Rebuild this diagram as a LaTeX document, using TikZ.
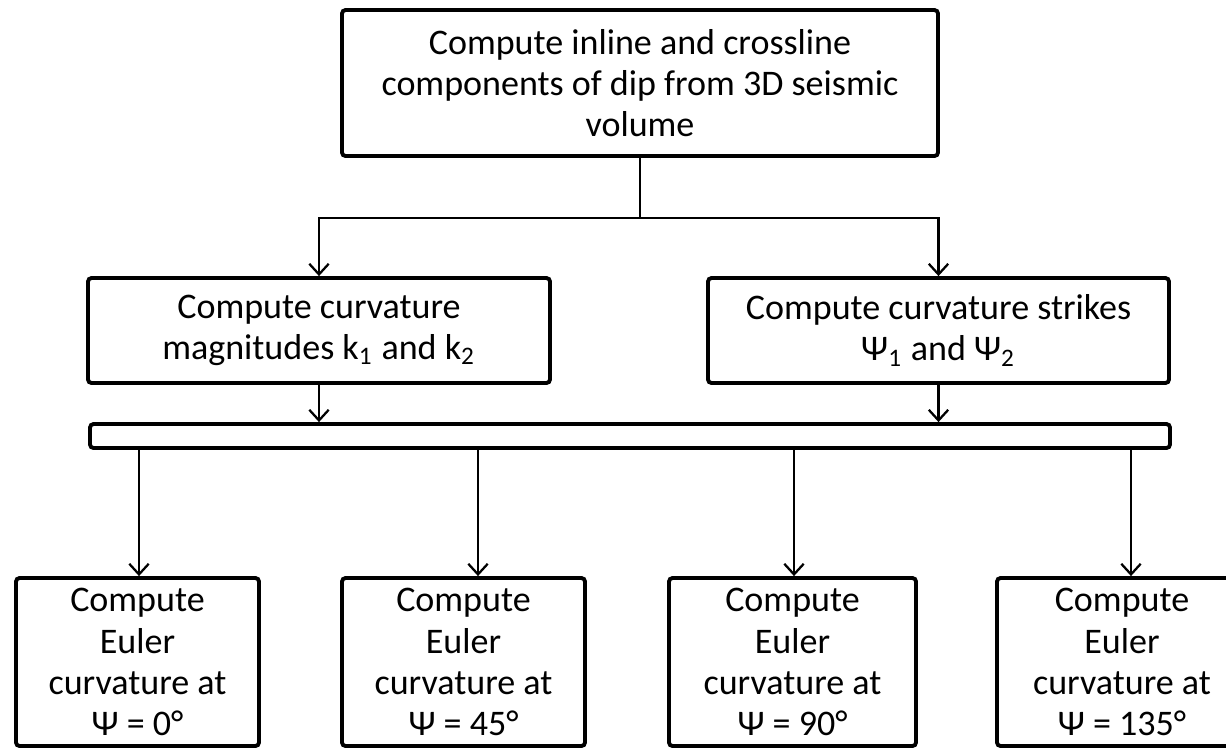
\documentclass[tikz,border=0pt]{standalone}
\usepackage{fontspec}
\setmainfont{Carlito}
\usetikzlibrary{arrows.meta}
\begin{document}
\begin{tikzpicture}[x=1cm,y=1cm,
  box/.style={draw, line width=1.1pt, rounded corners=1pt, align=center, inner sep=0pt,
    font=\fontsize{10.25}{11.7}\selectfont},
  conn/.style={line width=0.65pt},
  arr/.style={conn, -{Straight Barb[length=3pt,width=5.5pt]}}]
\useasboundingbox (0,0) rectangle (12.26,-7.49);
\node[box, minimum width=5.96cm, minimum height=1.46cm] (top) at (6.40,-0.83)
  {Compute inline and crossline\\components of dip from 3D seismic\\volume};
\node[box, minimum width=4.62cm, minimum height=1.05cm] (ml) at (3.19,-3.305)
  {Compute curvature\\magnitudes k\textsubscript{1} and k\textsubscript{2}};
\node[box, minimum width=4.61cm, minimum height=1.05cm] (mr) at (9.385,-3.305)
  {Compute curvature strikes\\Ψ\textsubscript{1} and Ψ\textsubscript{2}};
\node[box, minimum width=10.80cm, minimum height=0.24cm] (bar) at (6.30,-4.36) {};
\node[box, minimum width=2.43cm, minimum height=1.68cm] (b1) at (1.375,-6.62)
  {Compute\\Euler\\curvature at\\Ψ = 0°};
\node[box, minimum width=2.43cm, minimum height=1.68cm] (b2) at (4.635,-6.62)
  {Compute\\Euler\\curvature at\\Ψ = 45°};
\node[box, minimum width=2.47cm, minimum height=1.68cm] (b3) at (7.925,-6.62)
  {Compute\\Euler\\curvature at\\Ψ = 90°};
\node[box, minimum width=2.50cm, minimum height=1.68cm] (b4) at (11.22,-6.62)
  {Compute\\Euler\\curvature at\\Ψ = 135°};
\coordinate (j) at (6.40,-2.18);
\coordinate (x1) at (1.39,0);
\coordinate (x2) at (4.78,0);
\coordinate (x3) at (7.94,0);
\coordinate (x4) at (11.31,0);
\draw[conn] (top.south) -- (j);
\draw[arr] (j) -| (ml.north);
\draw[arr] (j) -| (mr.north);
\draw[arr] (ml.south) -- (ml.south |- bar.north);
\draw[arr] (mr.south) -- (mr.south |- bar.north);
\draw[arr] (x1 |- bar.south) -- (x1 |- b1.north);
\draw[arr] (x2 |- bar.south) -- (x2 |- b2.north);
\draw[arr] (x3 |- bar.south) -- (x3 |- b3.north);
\draw[arr] (x4 |- bar.south) -- (x4 |- b4.north);
\end{tikzpicture}
\end{document}
